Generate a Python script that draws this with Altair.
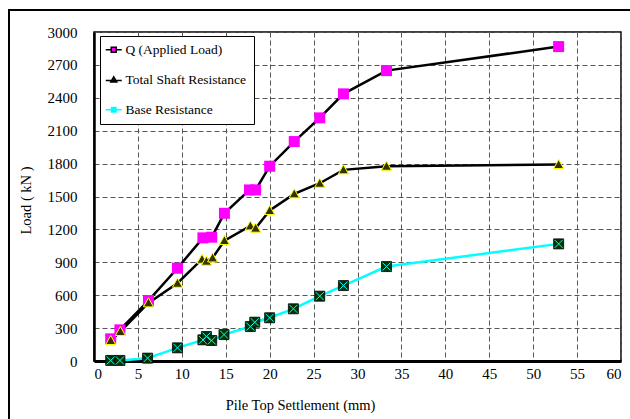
import altair as alt
import pandas as pd

# ---- data ----
series_names = ["Q (Applied Load)", "Total Shaft Resistance", "Base Resistance"]

q_x = [1.9, 2.95, 6.2, 9.5, 12.4, 13.4, 14.85, 17.7, 18.4, 20.0, 22.8, 25.7, 28.4, 33.3, 52.9]
q_y = [202, 284, 551, 846, 1123, 1129, 1347, 1560, 1560, 1776, 2001, 2217, 2436, 2648, 2867]

shaft_x = [1.9, 3.0, 6.2, 9.5, 12.3, 12.8, 13.5, 14.85, 17.8, 18.4, 20.0, 22.8, 25.7, 28.4, 33.3, 52.9]
shaft_y = [187, 269, 530, 709, 928, 910, 940, 1098, 1232, 1211, 1372, 1524, 1621, 1743, 1776, 1791]

base_x = [1.9, 2.95, 6.1, 9.5, 12.4, 12.8, 13.4, 14.8, 17.8, 18.3, 20.0, 22.7, 25.7, 28.4, 33.3, 52.9]
base_y = [5, 5, 26, 120, 193, 223, 187, 241, 314, 354, 394, 476, 591, 688, 861, 1068]

x_ticks = list(range(0, 61, 5))
y_ticks = list(range(0, 3001, 300))

# ---- build table ----
rows = []
for name, xs, ys in [(series_names[0], q_x, q_y),
                     (series_names[1], shaft_x, shaft_y),
                     (series_names[2], base_x, base_y)]:
    for i, (xv, yv) in enumerate(zip(xs, ys)):
        rows.append({"series": name, "idx": i, "x": xv, "y": yv})
df = pd.DataFrame(rows)

FONT = "Liberation Serif"

x_axis = alt.Axis(values=x_ticks, title="Pile Top Settlement (mm)",
                  format="d", labelOverlap=False,
                  titleX=206, titleY=44, titleAlign="center",
                  titleBaseline="middle", labelPadding=5,
                  ticks=False, domainWidth=3)
y_axis = alt.Axis(values=y_ticks, title="Load ( kN )",
                  format="d", labelOverlap=False,
                  titleX=-68, titleY=168, titleAlign="center",
                  titleBaseline="middle", labelPadding=17,
                  ticks=False, domainWidth=2.5)
x_scale = alt.Scale(domain=[0, 60], nice=False, zero=False)
y_scale = alt.Scale(domain=[0, 3000], nice=False)


def X():
    return alt.X("x:Q", scale=x_scale, axis=x_axis)


def Y():
    return alt.Y("y:Q", scale=y_scale, axis=y_axis)


base = alt.Chart(df)

lines = base.mark_line(strokeWidth=2.5).encode(
    x=X(), y=Y(),
    color=alt.Color("series:N",
                    scale=alt.Scale(domain=series_names,
                                    range=["#000000", "#000000", "#00FFFF"]),
                    legend=None),
    order=alt.Order("idx:Q"),
)

q_pts = base.transform_filter(alt.datum.series == series_names[0]).mark_point(
    shape="square", filled=True, size=121, fill="#FF00FF", opacity=1
).encode(x=X(), y=Y())

tri_path = "M0,-1L1,0.8L-1,0.8Z"
shaft_pts = base.transform_filter(alt.datum.series == series_names[1]).mark_point(
    shape=tri_path, size=100, fill="#333300", stroke="#FFFF00",
    strokeWidth=1, opacity=1, filled=False, fillOpacity=1
).encode(x=X(), y=Y())

base_sq = base.transform_filter(alt.datum.series == series_names[2]).mark_point(
    shape="square", size=100, fill="#003300", stroke="#000000",
    strokeWidth=0.8, opacity=1, filled=False, fillOpacity=1
).encode(x=X(), y=Y())

base_x_mark = base.transform_filter(alt.datum.series == series_names[2]).mark_point(
    shape="M-1,-1L1,1M1,-1L-1,1", size=64, stroke="#00FFFF",
    strokeWidth=1, opacity=1, filled=False
).encode(x=X(), y=Y())

# ---- legend layer (invisible marks, only drives the legend) ----
legend_df = df[df["idx"] == 0]
legend_paths = [
    "M-1.6,0H-0.5M0.5,0H1.6M-0.5,-0.5H0.5V0.5H-0.5Z",
    "M-1.6,0.15H1.6M0,-0.6L0.6,0.45H-0.6Z",
    "M-1.6,0H1.6M-0.45,-0.45H0.45V0.45H-0.45ZM-0.45,-0.45L0.45,0.45M0.45,-0.45L-0.45,0.45",
]
leg = alt.Legend(title=None, orient="none", legendX=6, legendY=4,
                 strokeColor="black", fillColor="white", padding=7,
                 labelFont=FONT, labelFontSize=13.5, labelColor="black",
                 symbolSize=100, rowPadding=15, labelOffset=5,
                 symbolStrokeWidth=1.5, symbolOpacity=1)
legend_layer = alt.Chart(legend_df).mark_point(opacity=0, filled=False).encode(
    x=X(), y=Y(),
    shape=alt.Shape("series:N", scale=alt.Scale(domain=series_names, range=legend_paths), legend=leg),
    fill=alt.Fill("series:N", scale=alt.Scale(domain=series_names,
                                              range=["#FF00FF", "#333300", "#003300"]), legend=leg),
    stroke=alt.Stroke("series:N", scale=alt.Scale(domain=series_names,
                                                  range=["#000000", "#000000", "#00FFFF"]), legend=leg),
)

# ---- outer frame of the figure ----
frame = alt.Chart(pd.DataFrame({"a": [0]})).mark_rect(
    fill=None, stroke="black", strokeWidth=2
).encode(x=alt.value(-85), x2=alt.value(546), y=alt.value(-22), y2=alt.value(398))

chart = alt.layer(
    frame, lines, legend_layer, q_pts, shaft_pts, base_sq, base_x_mark
).resolve_scale(
    color="independent", shape="independent", fill="independent", stroke="independent"
).properties(
    width=527, height=329,
    autosize=alt.AutoSizeParams(type="none"),
    padding={"left": 94, "top": 32, "right": 9, "bottom": 58},
    background="white",
).configure_view(
    stroke="black", strokeWidth=1.5
).configure_axis(
    labelFont=FONT, labelFontSize=15, labelColor="black",
    titleFont=FONT, titleFontSize=14.5, titleFontWeight="normal", titleColor="black",
    grid=True, gridColor="#555555", gridDash=[5, 3], gridWidth=1,
    domainColor="black",
)

chart.save("out.html", embed_options={"renderer": "svg", "actions": False})
